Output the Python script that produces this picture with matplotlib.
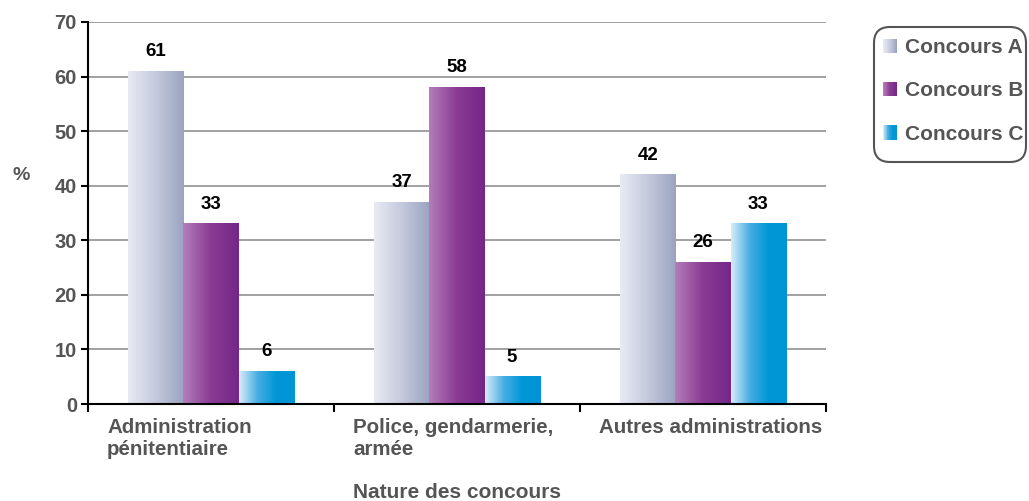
import numpy as np
import matplotlib
matplotlib.use("Agg")
import matplotlib.pyplot as plt
from matplotlib.colors import LinearSegmentedColormap
from matplotlib.legend_handler import HandlerBase
from matplotlib.patches import Rectangle, Patch, FancyBboxPatch
import matplotlib.transforms as mtransforms

categories = ["Administration\npénitentiaire", "Police, gendarmerie,\narmée", "Autres administrations"]
series_names = ["Concours A", "Concours B", "Concours C"]
concours_a = [61, 37, 42]
concours_b = [33, 58, 26]
concours_c = [6, 5, 33]

# gradient stops, left to right
gradients = [
    ["#e9ebf4", "#c4c9dc", "#9aa3c1"],
    ["#b57dbb", "#8a3b93", "#742789"],
    ["#d8ecf9", "#47aee3", "#0097d7", "#0094d5"],
]
cmaps = [LinearSegmentedColormap.from_list("g%d" % i, c) for i, c in enumerate(gradients)]

TEXT = "#555555"
plt.rcParams["font.family"] = ["Liberation Sans", "DejaVu Sans"]
plt.rcParams["font.weight"] = "bold"

fig = plt.figure(figsize=(10.29, 5.01), dpi=100)
ax = fig.add_axes([88 / 1029, 97 / 501, 738 / 1029, 382 / 501])

x = np.arange(len(categories))
width = 0.224
grad = np.linspace(0, 1, 256).reshape(1, -1)
for k, vals in enumerate([concours_a, concours_b, concours_c]):
    bars = ax.bar(x + (k - 1) * width, vals, width, color="none", zorder=2)
    for rect, v in zip(bars, vals):
        x0 = rect.get_x()
        ax.imshow(grad, cmap=cmaps[k], aspect="auto", zorder=2,
                  extent=[x0, x0 + rect.get_width(), 0, rect.get_height()],
                  interpolation="bilinear")
        ax.annotate(str(v), (x0 + rect.get_width() / 2, v), xytext=(0, 8),
                    textcoords="offset points", ha="center", va="bottom",
                    fontsize=13.5, fontweight="bold", color="black")

ax.set_xlim(-0.5, len(categories) - 0.5)
ax.set_ylim(0, 70)
ax.set_yticks(range(0, 71, 10))
ax.set_xticks(np.arange(len(categories) + 1) - 0.5)
ax.set_xticklabels([])
ax.yaxis.grid(True, color="#9a9a9a", linewidth=1.3, zorder=0)
ax.set_axisbelow(True)
for s in ["top", "right"]:
    ax.spines[s].set_visible(False)
for s in ["left", "bottom"]:
    ax.spines[s].set_linewidth(1.5)
    ax.spines[s].set_color("black")
    ax.spines[s].set_zorder(3)
ax.tick_params(axis="y", length=5, width=1.5, labelsize=14.5, labelcolor=TEXT, pad=3)
ax.tick_params(axis="x", length=6, width=1.5)
for lab in ax.get_yticklabels():
    lab.set_fontweight("bold")

offset = mtransforms.ScaledTranslation(19 / 100, -14 / 100, fig.dpi_scale_trans)
for i, cat in enumerate(categories):
    ax.text(i - 0.5, 0, cat, transform=ax.get_xaxis_transform() + offset,
            ha="left", va="top", fontsize=14.8, fontweight="bold", color=TEXT,
            linespacing=1.2)

fig.text(457 / 1029, 1 - 492 / 501, "Nature des concours", ha="center", va="center",
         fontsize=15, fontweight="bold", color=TEXT)
fig.text(21 / 1029, 1 - 175 / 501, "%", ha="center", va="center",
         fontsize=14, fontweight="bold", color=TEXT)


class GradientHandler(HandlerBase):
    def create_artists(self, legend, orig_handle, xdescent, ydescent, width, height, fontsize, trans):
        cmap = orig_handle.cmap
        n = 20
        arts = []
        for j in range(n):
            r = Rectangle((-xdescent + width * j / n, -ydescent), width / n + 0.2, height,
                          facecolor=cmap(j / (n - 1)), edgecolor="none", transform=trans)
            arts.append(r)
        return arts


handles = []
for k, name in enumerate(series_names):
    p = Patch(label=name)
    p.cmap = cmaps[k]
    handles.append(p)

leg = fig.legend(handles=handles, loc="upper left",
                 bbox_to_anchor=(883 / 1029, 1 - 38 / 501),
                 handler_map={Patch: GradientHandler()},
                 prop={"size": 15, "weight": "bold"},
                 handlelength=0.68, handleheight=0.68, handletextpad=0.38,
                 labelspacing=1.17, borderpad=0, borderaxespad=0,
                 frameon=False)
for t in leg.get_texts():
    t.set_color(TEXT)

# rounded legend frame, drawn in inches so corners stay round
box = FancyBboxPatch((8.74, 3.39), 1.52, 1.35, boxstyle="round,pad=0,rounding_size=0.16",
                     transform=fig.dpi_scale_trans, facecolor="none",
                     edgecolor="#555555", linewidth=1.5)
fig.patches.append(box)

fig.savefig("out.png", dpi=100, facecolor="white")
